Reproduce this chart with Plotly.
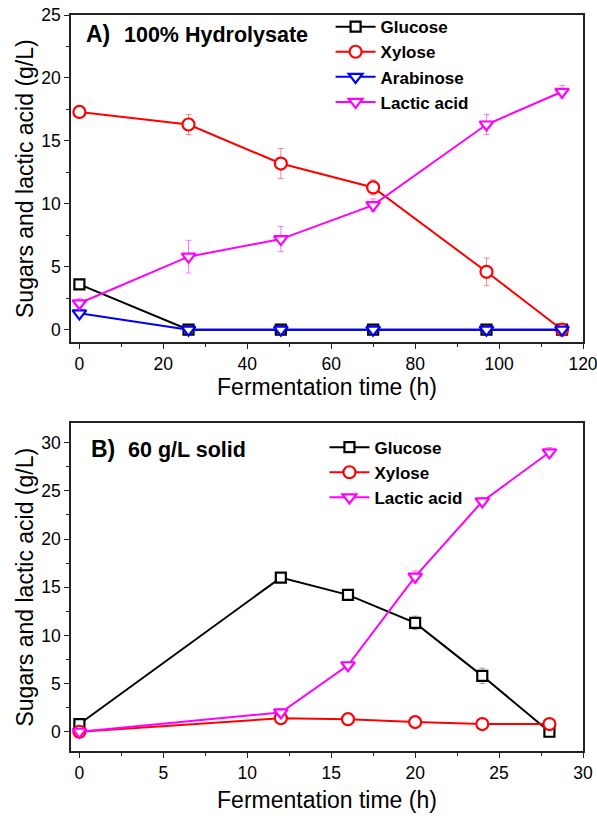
import plotly.graph_objects as go
from plotly.subplots import make_subplots

# Panel A: 100% Hydrolysate
time_a = [0, 26, 48, 70, 97, 115]
glucose_a = [3.6, 0, 0, 0, 0, 0]
glucose_a_err = [0.2, 0, 0, 0, 0, 0]
xylose_a = [17.3, 16.3, 13.2, 11.3, 4.6, 0]
xylose_a_err = [0.2, 0.8, 1.2, 0.6, 1.1, 0.2]
arabinose_a = [1.3, 0, 0, 0, 0, 0]
arabinose_a_err = [0.1, 0, 0, 0, 0, 0]
lactic_a = [2.1, 5.8, 7.2, 9.9, 16.3, 18.9]
lactic_a_err = [0.4, 1.3, 1.0, 0.5, 0.8, 0.5]

# Panel B: 60 g/L solid
time_b = [0, 12, 16, 20, 24, 28]
glucose_b = [0.8, 16.0, 14.2, 11.3, 5.8, 0]
glucose_b_err = [0.3, 0.2, 0.3, 0.7, 0.8, 0.2]
xylose_b = [0, 1.4, 1.3, 1.0, 0.8, 0.8]
xylose_b_err = [0.1, 0.2, 0.3, 0.3, 0.3, 0.3]
lactic_b = [0, 2.0, 6.9, 16.1, 23.9, 29.0]
lactic_b_err = [0.1, 0.4, 0.3, 0.6, 0.4, 0.5]

FONT = "Liberation Sans, Arial, sans-serif"

fig = make_subplots(rows=2, cols=1, vertical_spacing=0.11)

def add(x, y, err, name, color, errcolor, symbol, size, row, legend):
    fig.add_trace(go.Scatter(
        x=x, y=y, name=name, mode="lines+markers",
        line=dict(color=color, width=2),
        marker=dict(symbol=symbol, size=size, color="white",
                    line=dict(color=color, width=2.2)),
        error_y=dict(type="data", array=err, visible=True,
                     color=errcolor, thickness=1, width=3),
        legend=legend,
    ), row=row, col=1)

add(time_a, glucose_a, glucose_a_err, "Glucose", "black", "rgba(0,0,0,0.35)", "square", 10, 1, "legend")
add(time_a, xylose_a, xylose_a_err, "Xylose", "red", "rgba(255,0,0,0.45)", "circle", 12, 1, "legend")
add(time_a, arabinose_a, arabinose_a_err, "Arabinose", "blue", "rgba(0,0,255,0.45)", "triangle-down", 12, 1, "legend")
add(time_a, lactic_a, lactic_a_err, "Lactic acid", "magenta", "rgba(255,0,255,0.5)", "triangle-down", 12, 1, "legend")

add(time_b, glucose_b, glucose_b_err, "Glucose", "black", "rgba(0,0,0,0.35)", "square", 10, 2, "legend2")
add(time_b, xylose_b, xylose_b_err, "Xylose", "red", "rgba(255,0,0,0.45)", "circle", 12, 2, "legend2")
add(time_b, lactic_b, lactic_b_err, "Lactic acid", "magenta", "rgba(255,0,255,0.5)", "triangle-down", 12, 2, "legend2")

axis_common = dict(
    showline=True, linecolor="#222", linewidth=1.5, mirror=True,
    ticks="outside", ticklen=5, tickwidth=1.2, tickcolor="#222",
    showgrid=False, zeroline=False, automargin=False,
    ticklabeloverflow="allow",
    tickfont=dict(family=FONT, size=17.5, color="black"),
)
title_font = dict(family=FONT, size=23, color="black")

fig.update_xaxes(**axis_common)
fig.update_yaxes(**axis_common)

fig.update_xaxes(range=[-2, 120], dtick=20, tick0=0,
                 minor=dict(dtick=10, tick0=0, ticks="outside", ticklen=3, tickcolor="#222"),
                 title=dict(text="Fermentation time (h)", font=title_font, standoff=6),
                 row=1, col=1)
fig.update_xaxes(range=[-0.5, 30], dtick=5, tick0=0,
                 minor=dict(dtick=2.5, tick0=0, ticks="outside", ticklen=3, tickcolor="#222"),
                 title=dict(text="Fermentation time (h)", font=title_font, standoff=10),
                 row=2, col=1)
fig.update_yaxes(range=[-1, 25], dtick=5, tick0=0,
                 minor=dict(dtick=2.5, tick0=0, ticks="outside", ticklen=3, tickcolor="#222"),
                 title=dict(text="Sugars and lactic acid (g/L)", font=title_font, standoff=1),
                 row=1, col=1)
fig.update_yaxes(range=[-2, 32], dtick=5, tick0=0,
                 minor=dict(dtick=2.5, tick0=0, ticks="outside", ticklen=3, tickcolor="#222"),
                 title=dict(text="Sugars and lactic acid (g/L)", font=title_font, standoff=1),
                 row=2, col=1)

fig.update_layout(
    xaxis=dict(domain=[0, 1]), xaxis2=dict(domain=[0, 1]),
    yaxis=dict(domain=[0.5553, 1.0]), yaxis2=dict(domain=[0.0, 0.4451]),
)

fig.add_annotation(text="<b>A)</b>", x=0.026, y=0.941, xref="x domain", yref="y domain",
                   xanchor="left", yanchor="middle", showarrow=False,
                   font=dict(family=FONT, size=23, color="black"))
fig.add_annotation(text="<b>100% Hydrolysate</b>", x=0.1, y=0.939, xref="x domain", yref="y domain",
                   xanchor="left", yanchor="middle", showarrow=False,
                   font=dict(family=FONT, size=21.5, color="black"))
fig.add_annotation(text="<b>B)</b>", x=0.036, y=0.922, xref="x2 domain", yref="y2 domain",
                   xanchor="left", yanchor="middle", showarrow=False,
                   font=dict(family=FONT, size=23, color="black"))
fig.add_annotation(text="<b>60 g/L solid</b>", x=0.108, y=0.92, xref="x2 domain", yref="y2 domain",
                   xanchor="left", yanchor="middle", showarrow=False,
                   font=dict(family=FONT, size=21.5, color="black"))

legend_font = dict(family=FONT, size=17, color="black", weight="bold")
fig.update_layout(
    width=597, height=818,
    margin=dict(l=70.5, r=14, t=9, b=67),
    paper_bgcolor="white", plot_bgcolor="white",
    legend=dict(x=0.507, y=1.008, xanchor="left", yanchor="top",
                bgcolor="rgba(0,0,0,0)", font=legend_font, itemwidth=40,
                tracegroupgap=0, itemsizing="trace"),
    legend2=dict(x=0.495, y=0.4367, xanchor="left", yanchor="top",
                 bgcolor="rgba(0,0,0,0)", font=legend_font, itemwidth=40,
                 tracegroupgap=0, itemsizing="trace"),
)

fig.write_html("out.html", config={"displayModeBar": False},
               post_script="document.body.style.margin='0';document.body.style.overflow='hidden';")
